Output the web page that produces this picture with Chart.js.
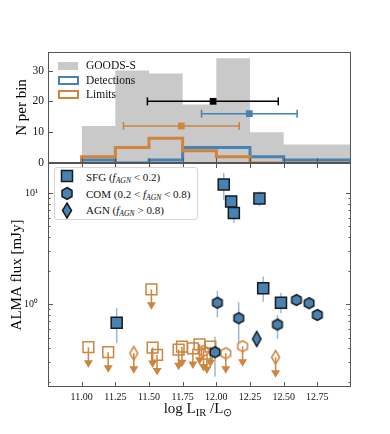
<!DOCTYPE html>
<html>
<head>
<meta charset="utf-8">
<script src="https://cdn.jsdelivr.net/npm/chart.js@4.4.1/dist/chart.umd.min.js"></script>
<style>
    body { margin: 0; background: #fff; }
    #wrap { position: relative; width: 390px; height: 434px; font-family: 'Liberation Serif', serif; color: #111; }
    canvas { position: absolute; left: 0; top: 0; }
    .lab { position: absolute; white-space: nowrap; line-height: 1; transform: translateY(-50%); }
    .lab sub { font-size: 70%; vertical-align: baseline; position: relative; top: 0.3em; }
    .patch { position: absolute; box-sizing: border-box; }
    #leg2 { position: absolute; left: 54px; top: 167px; width: 144px; height: 53px; box-sizing: border-box;
        border: 1px solid #d6d6d6; border-radius: 3px; background: #fff; }
    .mk { position: absolute; }
</style>
</head>
<body>
<div id="wrap">
    <canvas id="bottom-chart" width="390" height="434"></canvas>
    <canvas id="top-chart" width="390" height="434"></canvas>

    <!-- легенда верхней панели -->
    <div class="patch" style="left:57.5px;top:61.7px;width:20px;height:8.3px;background:#c9c9c9"></div>
    <div class="patch" style="left:57.5px;top:75.8px;width:21px;height:9px;border:2.5px solid #4682b4"></div>
    <div class="patch" style="left:57.5px;top:90px;width:21px;height:9px;border:2.5px solid #cd853f"></div>
    <div class="lab" style="left:86px;top:66px;font-size:11.5px">GOODS-S</div>
    <div class="lab" style="left:86px;top:80.5px;font-size:11.5px">Detections</div>
    <div class="lab" style="left:86px;top:94.8px;font-size:11.5px">Limits</div>

    <!-- легенда нижней панели -->
    <div id="leg2"></div>
    <svg class="mk" style="left:60px;top:169px" width="14" height="15">
        <rect x="1.5" y="1.5" width="11" height="11" fill="#4682b4" stroke="#1a1a1a" stroke-width="1.5"/>
    </svg>
    <svg class="mk" style="left:60px;top:186px" width="14" height="15">
        <polygon points="7,1.5 12,4.5 12,10.5 7,13.5 2,10.5 2,4.5" fill="#4682b4" stroke="#1a1a1a" stroke-width="1.5"/>
    </svg>
    <svg class="mk" style="left:60px;top:202px" width="14" height="17">
        <polygon points="7,1 11.5,8.5 7,16 2.5,8.5" fill="#4682b4" stroke="#1a1a1a" stroke-width="1.5"/>
    </svg>
    <div class="lab" style="left:86px;top:177px;font-size:11px">SFG (<i>f</i><sub><i>AGN</i></sub> &lt; 0.2)</div>
    <div class="lab" style="left:86px;top:193.5px;font-size:11px">COM (0.2 &lt; <i>f</i><sub><i>AGN</i></sub> &lt; 0.8)</div>
    <div class="lab" style="left:86px;top:210px;font-size:11px">AGN (<i>f</i><sub><i>AGN</i></sub> &gt; 0.8)</div>

    <!-- подпись оси X -->
    <div class="lab" style="left:198px;top:408px;font-size:15px;transform:translate(-50%,-50%)">log L<sub>IR</sub> /L<sub>⊙</sub></div>
</div>

<script>
// Гистограммы (верхняя панель)
const binEdges = [11.0, 11.25, 11.5, 11.75, 12.0, 12.25, 12.5, 12.75, 13.0];
const goodsCounts = [5, 12, 30, 29, 19, 34, 10, 6];
const detCounts = [0, 1, 0, 1, 5, 5, 2, 1];
const limCounts = [2, 2, 5, 8, 4, 2, 0, 0];

// Медианы с разбросом (верхняя панель)
const medianNames = ['GOODS-S', 'Detections', 'Limits'];
const medianLir = [11.976, 12.245, 11.74];
const medianN = [20, 16, 12];
const medianLo = [11.488, 11.89, 11.31];
const medianHi = [12.46, 12.6, 12.17];

// Детекции (нижняя панель)
const sfgLir = [11.26, 12.055, 12.11, 12.13, 12.32, 12.348, 12.48];
const sfgFlux = [0.68, 11.9, 8.4, 6.6, 8.9, 1.39, 1.03];
const sfgLo = [0.445, 8.7, 7.8, 5.37, 7.6, 1.05, 0.83];
const sfgHi = [0.92, 15.1, 9.0, 8.0, 10.3, 1.77, 1.26];

const comLir = [12.008, 12.166, 11.99, 12.454, 12.595, 12.689, 12.75];
const comFlux = [1.03, 0.748, 0.37, 0.655, 1.09, 1.02, 0.80];
const comLo = [0.76, 0.45, 0.223, 0.49, 1.0, 0.95, 0.75];
const comHi = [1.32, 1.04, 0.51, 0.80, 1.18, 1.09, 0.86];

const agnLir = [12.30];
const agnFlux = [0.487];
const agnLo = [0.44];
const agnHi = [0.54];

// Верхние пределы
const limSfgLir = [11.05, 11.197, 11.518, 11.527, 11.56, 11.72, 11.745, 11.826, 11.875, 11.93, 11.956];
const limSfgFlux = [0.41, 0.37, 1.36, 0.407, 0.35, 0.39, 0.415, 0.40, 0.436, 0.36, 0.415];
const limComLir = [11.905, 12.07, 12.195];
const limComFlux = [0.38, 0.362, 0.418];
const limAgnLir = [11.387, 12.44];
const limAgnFlux = [0.362, 0.333];

const xTicks = [11.0, 11.25, 11.5, 11.75, 12.0, 12.25, 12.5, 12.75];
const nTicks = [0, 10, 20, 30];
const fluxMajor = [1, 10];
const fluxMinor = [0.2, 0.3, 0.4, 0.5, 0.6, 0.7, 0.8, 0.9, 2, 3, 4, 5, 6, 7, 8, 9];

const BLUE = '#4682b4';
const ORANGE = '#cd853f';
const EDGE = '#1a1a1a';
const GRAY = '#c9c9c9';

Chart.defaults.font.family = "'Liberation Serif', serif";
Chart.defaults.color = '#111';

// Шестиугольник и ромб как картинки-маркеры
function hexMarker(size, fill, stroke, lw) {
    const c = document.createElement('canvas');
    c.width = c.height = Math.ceil(size + lw * 2 + 2);
    const g = c.getContext('2d');
    const m = c.width / 2, r = size / 2;
    g.beginPath();
    for (let i = 0; i < 6; i++) {
        const a = -Math.PI / 2 + i * Math.PI / 3;
        g.lineTo(m + r * Math.cos(a), m + r * Math.sin(a));
    }
    g.closePath();
    if (fill) { g.fillStyle = fill; g.fill(); }
    g.lineWidth = lw; g.strokeStyle = stroke; g.stroke();
    return c;
}

function diamondMarker(w, h, fill, stroke, lw) {
    const c = document.createElement('canvas');
    c.width = Math.ceil(w + lw * 2 + 2);
    c.height = Math.ceil(h + lw * 2 + 2);
    const g = c.getContext('2d');
    const mx = c.width / 2, my = c.height / 2;
    g.beginPath();
    g.moveTo(mx, my - h / 2);
    g.lineTo(mx + w / 2, my);
    g.lineTo(mx, my + h / 2);
    g.lineTo(mx - w / 2, my);
    g.closePath();
    if (fill) { g.fillStyle = fill; g.fill(); }
    g.lineWidth = lw; g.strokeStyle = stroke; g.stroke();
    return c;
}

// Рамка и засечки внутрь
function frameTicks(cfg) {
    return {
        id: 'frameTicks',
        afterDraw(chart) {
            const {ctx, chartArea: a, scales} = chart;
            ctx.save();
            ctx.strokeStyle = '#555';
            ctx.lineWidth = 1;
            ctx.strokeRect(a.left + 0.5, a.top + 0.5, a.right - a.left - 1, a.bottom - a.top - 1);
            ctx.beginPath();
            for (const v of xTicks) {
                const px = Math.round(scales.x.getPixelForValue(v)) + 0.5;
                if (cfg.xBottom) { ctx.moveTo(px, a.bottom); ctx.lineTo(px, a.bottom - 5); }
                if (cfg.xTop) { ctx.moveTo(px, a.top); ctx.lineTo(px, a.top + 5); }
            }
            const sets = [[cfg.yMajor, 5], [cfg.yMinor || [], 2.5]];
            for (const [vals, len] of sets) {
                for (const v of vals) {
                    const py = Math.round(scales.y.getPixelForValue(v)) + 0.5;
                    ctx.moveTo(a.left, py); ctx.lineTo(a.left + len, py);
                    if (cfg.yRight) { ctx.moveTo(a.right, py); ctx.lineTo(a.right - len, py); }
                }
            }
            ctx.stroke();
            ctx.restore();
        }
    };
}

// Планки ошибок и стрелки пределов
const errorPlugin = {
    id: 'errorPlugin',
    beforeDatasetsDraw(chart) {
        const {ctx, scales: {x, y}} = chart;
        ctx.save();
        ctx.strokeStyle = 'rgba(70,130,180,0.55)';
        ctx.lineWidth = 1.5;
        ctx.beginPath();
        const groups = [[sfgLir, sfgLo, sfgHi], [comLir, comLo, comHi], [agnLir, agnLo, agnHi]];
        for (const [lir, lo, hi] of groups) {
            lir.forEach((v, i) => {
                const px = x.getPixelForValue(v);
                ctx.moveTo(px, y.getPixelForValue(lo[i]));
                ctx.lineTo(px, y.getPixelForValue(hi[i]));
            });
        }
        ctx.stroke();

        ctx.strokeStyle = ORANGE;
        ctx.fillStyle = ORANGE;
        const lims = [[limSfgLir, limSfgFlux], [limComLir, limComFlux], [limAgnLir, limAgnFlux]];
        for (const [lir, flux] of lims) {
            lir.forEach((v, i) => {
                const px = x.getPixelForValue(v);
                const py = y.getPixelForValue(flux[i]);
                ctx.beginPath();
                ctx.moveTo(px, py);
                ctx.lineTo(px, py + 14);
                ctx.stroke();
                ctx.beginPath();
                ctx.moveTo(px - 4.5, py + 13);
                ctx.lineTo(px + 4.5, py + 13);
                ctx.lineTo(px, py + 20.5);
                ctx.closePath();
                ctx.fill();
            });
        }
        ctx.restore();
    }
};

function stepData(counts) {
    const pts = [{x: binEdges[0], y: 0}];
    counts.forEach((c, i) => pts.push({x: binEdges[i], y: c}));
    pts.push({x: binEdges[binEdges.length - 1], y: counts[counts.length - 1]});
    pts.push({x: binEdges[binEdges.length - 1], y: 0});
    return pts;
}

const xMin = 10.75, xMax = 13.0;
const common = {
    responsive: false,
    animation: false,
    devicePixelRatio: 1,
    events: [],
    plugins: {legend: {display: false}, tooltip: {enabled: false}}
};

// Верхняя панель
const medianColors = ['#000000', BLUE, ORANGE];
const errDatasets = medianNames.map((name, i) => ({
    type: 'line',
    label: name + ' range',
    data: [{x: medianLo[i], y: medianN[i]}, {x: medianHi[i], y: medianN[i]}],
    borderColor: medianColors[i],
    borderWidth: 1.5,
    pointStyle: 'line',
    pointRotation: 90,
    pointRadius: 4,
    pointBorderWidth: 1.5,
    pointBorderColor: medianColors[i],
    order: 1
}));

new Chart(document.getElementById('top-chart'), {
    type: 'line',
    data: {
        datasets: [
            {
                type: 'scatter', label: 'medians',
                data: medianLir.map((v, i) => ({x: v, y: medianN[i]})),
                pointStyle: 'rect', pointRadius: 4.8,
                pointBackgroundColor: medianColors, pointBorderWidth: 0,
                order: 0
            },
            ...errDatasets,
            {
                label: 'Limits', data: stepData(limCounts), stepped: 'after',
                borderColor: ORANGE, borderWidth: 3, pointRadius: 0, fill: false,
                borderJoinStyle: 'miter', order: 2
            },
            {
                label: 'Detections', data: stepData(detCounts), stepped: 'after',
                borderColor: BLUE, borderWidth: 3, pointRadius: 0, fill: false,
                borderJoinStyle: 'miter', order: 3
            },
            {
                label: 'GOODS-S', data: stepData(goodsCounts), stepped: 'after',
                borderWidth: 0, borderColor: GRAY, backgroundColor: GRAY,
                pointRadius: 0, fill: 'origin', order: 4
            }
        ]
    },
    options: {
        ...common,
        layout: {padding: {top: 52, right: 39, bottom: 271, left: 0}},
        scales: {
            x: {
                type: 'linear', min: xMin, max: xMax,
                grid: {display: false, drawTicks: false}, border: {display: false},
                ticks: {display: false},
                afterFit: s => { s.height = 0; }
            },
            y: {
                min: 0, max: 36,
                grid: {display: false, drawTicks: false}, border: {display: false},
                afterBuildTicks: s => { s.ticks = nTicks.map(v => ({value: v})); },
                ticks: {font: {size: 11.5}, padding: 4, color: '#111'},
                title: {display: true, text: 'N per bin', font: {size: 15}, padding: {top: 13, bottom: 0}, color: '#000'},
                afterFit: s => { s.width = 48; }
            }
        }
    },
    plugins: [frameTicks({xBottom: true, yMajor: nTicks})]
});

// Нижняя панель
const hexFilled = hexMarker(11, BLUE, EDGE, 1.5);
const hexOpen = hexMarker(11, null, ORANGE, 1.5);
const diaFilled = diamondMarker(8.5, 15, BLUE, EDGE, 1.5);
const diaOpen = diamondMarker(8, 13.5, null, ORANGE, 1.5);

const toPts = (xs, ys) => xs.map((v, i) => ({x: v, y: ys[i]}));

new Chart(document.getElementById('bottom-chart'), {
    type: 'scatter',
    data: {
        datasets: [
            {
                label: 'SFG', data: toPts(sfgLir, sfgFlux),
                pointStyle: 'rect', pointRadius: 7.8,
                pointBackgroundColor: BLUE, pointBorderColor: EDGE, pointBorderWidth: 1.5, order: 1
            },
            {label: 'COM', data: toPts(comLir, comFlux), pointStyle: hexFilled, order: 1},
            {label: 'AGN', data: toPts(agnLir, agnFlux), pointStyle: diaFilled, order: 1},
            {
                label: 'SFG limits', data: toPts(limSfgLir, limSfgFlux),
                pointStyle: 'rect', pointRadius: 7.6,
                pointBackgroundColor: 'rgba(255,255,255,0)', pointBorderColor: ORANGE, pointBorderWidth: 1.5, order: 2
            },
            {label: 'COM limits', data: toPts(limComLir, limComFlux), pointStyle: hexOpen, order: 2},
            {label: 'AGN limits', data: toPts(limAgnLir, limAgnFlux), pointStyle: diaOpen, order: 2}
        ]
    },
    options: {
        ...common,
        layout: {padding: {top: 163, right: 39, bottom: 0, left: 0}},
        scales: {
            x: {
                type: 'linear', min: xMin, max: xMax,
                grid: {display: false, drawTicks: false}, border: {display: false},
                afterBuildTicks: s => { s.ticks = xTicks.map(v => ({value: v})); },
                ticks: {
                    font: {size: 10}, padding: 4, autoSkip: false, maxRotation: 0, color: '#111',
                    callback: v => v.toFixed(2)
                },
                afterFit: s => { s.height = 47; }
            },
            y: {
                type: 'logarithmic', min: 0.18, max: 18.6,
                grid: {display: false, drawTicks: false}, border: {display: false},
                afterBuildTicks: s => { s.ticks = fluxMajor.map(v => ({value: v})); },
                ticks: {font: {size: 10}, padding: 10, color: '#111', callback: v => (v === 1 ? '10⁰' : '10¹')},
                title: {display: true, text: 'ALMA flux [mJy]', font: {size: 15}, padding: {top: 7.7, bottom: 0}, color: '#000'},
                afterFit: s => { s.width = 48; }
            }
        }
    },
    plugins: [errorPlugin, frameTicks({xBottom: true, xTop: true, yMajor: fluxMajor, yMinor: fluxMinor, yRight: true})]
});
</script>
</body>
</html>
